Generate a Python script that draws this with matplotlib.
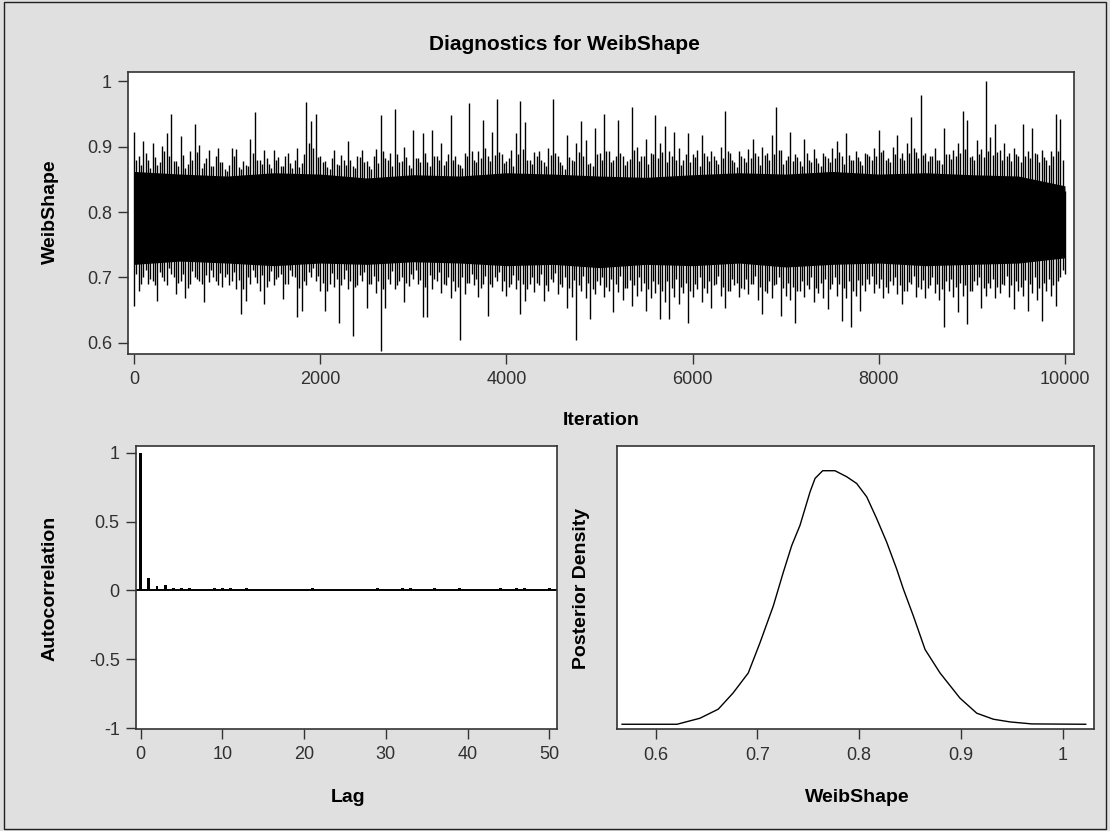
import numpy as np
import matplotlib
matplotlib.use('Agg')
import matplotlib.pyplot as plt
from matplotlib.patches import Rectangle
from matplotlib.ticker import FuncFormatter

# ---------------- data ----------------
trace_step = 50  # iterations between envelope samples (outer spikes)
trace_hi = [
    0.923, 0.885, 0.908, 0.880, 0.906, 0.872, 0.901, 0.921, 0.950, 0.878,
    0.916, 0.868, 0.893, 0.935, 0.903, 0.875, 0.895, 0.870, 0.898, 0.877,
    0.862, 0.898, 0.897, 0.866, 0.872, 0.912, 0.953, 0.880, 0.895, 0.873,
    0.895, 0.884, 0.870, 0.890, 0.868, 0.898, 0.875, 0.968, 0.939, 0.950,
    0.885, 0.878, 0.866, 0.895, 0.872, 0.880, 0.908, 0.870, 0.885, 0.895,
    0.878, 0.866, 0.897, 0.948, 0.883, 0.890, 0.957, 0.876, 0.900, 0.872,
    0.926, 0.882, 0.921, 0.876, 0.926, 0.885, 0.906, 0.878, 0.948, 0.885,
    0.872, 0.890, 0.967, 0.880, 0.893, 0.940, 0.885, 0.922, 0.972, 0.888,
    0.878, 0.895, 0.921, 0.970, 0.937, 0.880, 0.892, 0.893, 0.876, 0.898,
    0.973, 0.885, 0.872, 0.918, 0.880, 0.905, 0.939, 0.910, 0.875, 0.929,
    0.890, 0.950, 0.893, 0.880, 0.941, 0.886, 0.878, 0.961, 0.900, 0.885,
    0.911, 0.890, 0.948, 0.905, 0.931, 0.893, 0.923, 0.898, 0.880, 0.921,
    0.888, 0.895, 0.918, 0.885, 0.893, 0.880, 0.900, 0.955, 0.890, 0.876,
    0.893, 0.882, 0.896, 0.911, 0.885, 0.900, 0.890, 0.918, 0.961, 0.895,
    0.880, 0.923, 0.888, 0.878, 0.911, 0.880, 0.896, 0.875, 0.890, 0.882,
    0.898, 0.908, 0.885, 0.921, 0.880, 0.893, 0.878, 0.890, 0.885, 0.898,
    0.926, 0.895, 0.882, 0.900, 0.918, 0.890, 0.905, 0.945, 0.892, 0.979,
    0.890, 0.885, 0.898, 0.880, 0.929, 0.888, 0.895, 0.906, 0.955, 0.941,
    0.885, 0.910, 0.896, 1.000, 0.915, 0.935, 0.895, 0.906, 0.890, 0.898,
    0.885, 0.935, 0.893, 0.929, 0.888, 0.895, 0.880, 0.893, 0.950, 0.942,
    0.832,
]
trace_lo = [
    0.657, 0.680, 0.700, 0.690, 0.695, 0.664, 0.700, 0.688, 0.705, 0.674,
    0.695, 0.669, 0.690, 0.700, 0.695, 0.662, 0.693, 0.700, 0.688, 0.685,
    0.705, 0.695, 0.683, 0.644, 0.664, 0.690, 0.700, 0.680, 0.659, 0.695,
    0.688, 0.700, 0.667, 0.690, 0.702, 0.640, 0.649, 0.688, 0.700, 0.695,
    0.680, 0.649, 0.690, 0.685, 0.630, 0.698, 0.683, 0.610, 0.688, 0.695,
    0.654, 0.690, 0.676, 0.588, 0.654, 0.690, 0.682, 0.695, 0.662, 0.687,
    0.698, 0.690, 0.639, 0.639, 0.683, 0.695, 0.676, 0.688, 0.668, 0.680,
    0.604, 0.675, 0.692, 0.688, 0.670, 0.690, 0.641, 0.685, 0.695, 0.680,
    0.672, 0.690, 0.683, 0.644, 0.664, 0.690, 0.678, 0.688, 0.664, 0.680,
    0.693, 0.675, 0.686, 0.654, 0.670, 0.604, 0.680, 0.668, 0.636, 0.675,
    0.688, 0.670, 0.680, 0.647, 0.678, 0.665, 0.684, 0.657, 0.672, 0.680,
    0.649, 0.668, 0.676, 0.636, 0.662, 0.636, 0.670, 0.660, 0.676, 0.631,
    0.670, 0.683, 0.662, 0.676, 0.654, 0.690, 0.672, 0.654, 0.680, 0.688,
    0.670, 0.683, 0.675, 0.690, 0.665, 0.644, 0.676, 0.668, 0.690, 0.641,
    0.672, 0.665, 0.630, 0.680, 0.670, 0.683, 0.662, 0.676, 0.668, 0.652,
    0.690, 0.672, 0.634, 0.668, 0.625, 0.672, 0.649, 0.680, 0.690, 0.676,
    0.684, 0.668, 0.676, 0.688, 0.675, 0.660, 0.680, 0.690, 0.670, 0.683,
    0.668, 0.688, 0.676, 0.665, 0.624, 0.680, 0.670, 0.647, 0.672, 0.629,
    0.680, 0.688, 0.654, 0.672, 0.684, 0.668, 0.676, 0.688, 0.670, 0.652,
    0.680, 0.672, 0.649, 0.676, 0.665, 0.634, 0.680, 0.672, 0.657, 0.700,
    0.705,
]
# inner fringe, sampled half-way between the outer samples
fringe_hi = [
    0.880, 0.872, 0.890, 0.868, 0.884, 0.876, 0.893, 0.885, 0.878, 0.870,
    0.887, 0.874, 0.880, 0.892, 0.868, 0.882, 0.871, 0.886, 0.876, 0.866,
    0.872, 0.885, 0.869, 0.878, 0.870, 0.890, 0.880, 0.874, 0.883, 0.868,
    0.879, 0.871, 0.886, 0.875, 0.880, 0.869, 0.888, 0.905, 0.898, 0.884,
    0.876, 0.869, 0.882, 0.874, 0.887, 0.872, 0.880, 0.868, 0.884, 0.877,
    0.870, 0.886, 0.875, 0.893, 0.880, 0.871, 0.889, 0.878, 0.884, 0.868,
    0.883, 0.876, 0.890, 0.871, 0.886, 0.879, 0.872, 0.888, 0.880, 0.874,
    0.868, 0.885, 0.894, 0.876, 0.882, 0.898, 0.878, 0.887, 0.892, 0.875,
    0.883, 0.870, 0.889, 0.896, 0.880, 0.874, 0.885, 0.879, 0.871, 0.887,
    0.890, 0.876, 0.866, 0.884, 0.878, 0.892, 0.885, 0.873, 0.870, 0.888,
    0.880, 0.893, 0.876, 0.885, 0.890, 0.872, 0.881, 0.895, 0.878, 0.886,
    0.874, 0.889, 0.883, 0.891, 0.877, 0.886, 0.880, 0.872, 0.888, 0.876,
    0.884, 0.871, 0.890, 0.878, 0.886, 0.874, 0.882, 0.893, 0.879, 0.869,
    0.885, 0.876, 0.883, 0.890, 0.872, 0.887, 0.880, 0.889, 0.895, 0.874,
    0.886, 0.878, 0.884, 0.871, 0.890, 0.876, 0.882, 0.870, 0.885, 0.877,
    0.883, 0.891, 0.874, 0.887, 0.879, 0.884, 0.872, 0.888, 0.880, 0.886,
    0.892, 0.880, 0.876, 0.888, 0.883, 0.879, 0.890, 0.898, 0.882, 0.887,
    0.878, 0.885, 0.880, 0.874, 0.889, 0.881, 0.886, 0.890, 0.896, 0.884,
    0.879, 0.888, 0.884, 0.893, 0.887, 0.892, 0.880, 0.886, 0.878, 0.889,
    0.876, 0.885, 0.882, 0.890, 0.877, 0.884, 0.872, 0.886, 0.894, 0.880,
]
fringe_lo = [
    0.705, 0.690, 0.712, 0.698, 0.688, 0.708, 0.695, 0.714, 0.700, 0.692,
    0.706, 0.684, 0.710, 0.698, 0.690, 0.703, 0.712, 0.694, 0.707, 0.700,
    0.688, 0.708, 0.696, 0.682, 0.700, 0.712, 0.692, 0.704, 0.686, 0.710,
    0.698, 0.706, 0.690, 0.712, 0.700, 0.684, 0.695, 0.708, 0.714, 0.702,
    0.692, 0.680, 0.707, 0.697, 0.688, 0.712, 0.694, 0.685, 0.704, 0.708,
    0.690, 0.702, 0.694, 0.682, 0.698, 0.710, 0.688, 0.700, 0.692, 0.706,
    0.712, 0.696, 0.686, 0.704, 0.698, 0.708, 0.690, 0.700, 0.694, 0.685,
    0.700, 0.692, 0.706, 0.697, 0.684, 0.702, 0.690, 0.700, 0.708, 0.694,
    0.686, 0.703, 0.696, 0.690, 0.682, 0.700, 0.692, 0.705, 0.688, 0.698,
    0.707, 0.690, 0.700, 0.684, 0.696, 0.688, 0.702, 0.692, 0.683, 0.695,
    0.700, 0.686, 0.697, 0.690, 0.702, 0.684, 0.696, 0.688, 0.700, 0.692,
    0.682, 0.695, 0.690, 0.680, 0.694, 0.684, 0.698, 0.686, 0.692, 0.680,
    0.690, 0.700, 0.684, 0.694, 0.688, 0.702, 0.686, 0.680, 0.697, 0.692,
    0.684, 0.698, 0.690, 0.702, 0.686, 0.680, 0.694, 0.688, 0.700, 0.684,
    0.692, 0.686, 0.680, 0.695, 0.688, 0.700, 0.684, 0.692, 0.698, 0.682,
    0.700, 0.690, 0.684, 0.694, 0.680, 0.696, 0.688, 0.697, 0.702, 0.690,
    0.698, 0.686, 0.694, 0.700, 0.688, 0.680, 0.693, 0.702, 0.686, 0.696,
    0.684, 0.700, 0.690, 0.682, 0.694, 0.698, 0.686, 0.692, 0.688, 0.680,
    0.694, 0.700, 0.684, 0.692, 0.697, 0.686, 0.690, 0.702, 0.688, 0.694,
    0.686, 0.696, 0.690, 0.700, 0.684, 0.692, 0.697, 0.688, 0.694, 0.712,
]
core_step = 500
core_hi = [0.862, 0.858, 0.855, 0.860, 0.858, 0.852, 0.857, 0.855, 0.860, 0.858,
           0.855, 0.853, 0.857, 0.860, 0.858, 0.862, 0.858, 0.860, 0.857, 0.855, 0.840]
core_lo = [0.720, 0.725, 0.722, 0.718, 0.722, 0.720, 0.724, 0.722, 0.718, 0.720,
           0.715, 0.720, 0.718, 0.722, 0.716, 0.720, 0.722, 0.718, 0.720, 0.722, 0.730]

lags = list(range(51))
acf = [1.0, 0.09, 0.03, 0.04, 0.015, 0.015, 0.015, 0.0, 0.0, 0.015,
       0.015, 0.015, 0.0, 0.015, 0.0, 0.0, 0.0, 0.0, 0.0, 0.0,
       0.0, 0.015, 0.0, 0.0, 0.0, 0.0, 0.0, 0.0, 0.0, 0.015,
       0.0, 0.0, 0.015, 0.015, 0.0, 0.0, 0.015, 0.0, 0.0, 0.015,
       0.0, 0.0, 0.0, 0.0, 0.015, 0.0, 0.015, 0.015, 0.0, 0.0, 0.015]

dens_x = [0.567, 0.621, 0.6435, 0.6615, 0.676, 0.691, 0.7025, 0.7156, 0.7254, 0.7337,
          0.7418, 0.7517, 0.7566, 0.7641, 0.7762, 0.7877, 0.7975, 0.8074, 0.8172, 0.827,
          0.8368, 0.8434, 0.8532, 0.8647, 0.8794, 0.899, 0.9155, 0.9318, 0.9482, 0.9695, 1.0226]
dens_y = [0.0, 0.0, 0.19, 0.476, 0.984, 1.619, 2.571, 3.735, 4.794, 5.640,
          6.275, 7.333, 7.757, 8.0, 8.0, 7.810, 7.598, 7.175, 6.487, 5.746,
          4.899, 4.265, 3.418, 2.360, 1.619, 0.825, 0.349, 0.159, 0.074, 0.011, 0.0]

title = "Diagnostics for WeibShape"
trace_yticks = [0.6, 0.7, 0.8, 0.9, 1.0]
trace_xticks = [0, 2000, 4000, 6000, 8000, 10000]
acf_yticks = [-1, -0.5, 0, 0.5, 1]
acf_xticks = [0, 10, 20, 30, 40, 50]
dens_xticks = [0.6, 0.7, 0.8, 0.9, 1.0]

# ---------------- style ----------------
W, H = 1110, 831
BG = '#e0e0e0'
FRAME = '#333333'
TXT = '#303030'
plt.rcParams['font.family'] = ['Liberation Sans', 'DejaVu Sans']

fig = plt.figure(figsize=(W / 100, H / 100), dpi=100, facecolor=BG)


def fx(px):
    return px / W


def fy(py):
    return 1 - py / H


def add_axes(l, t, r, b):
    return fig.add_axes([fx(l), fy(b), (r - l) / W, (b - t) / H])


fmt = FuncFormatter(lambda v, p: '%g' % v)


def style(ax):
    ax.set_facecolor('white')
    for s in ax.spines.values():
        s.set_color(FRAME)
        s.set_linewidth(1.2)
    ax.tick_params(direction='out', length=7.5, width=1.0, color=FRAME,
                   labelsize=13, labelcolor=TXT)
    ax.tick_params(axis='x', pad=5)
    ax.tick_params(axis='y', pad=4)
    ax.xaxis.set_major_formatter(fmt)
    ax.yaxis.set_major_formatter(fmt)


# border of the whole graph
fig.add_artist(Rectangle((fx(4), fy(829)), (1106 - 4) / W, (829 - 2) / H,
                         transform=fig.transFigure, fill=False,
                         ec='#202020', lw=1.0))

# ---------------- trace ----------------
ax1 = add_axes(128, 72, 1074, 354)
style(ax1)
it = np.arange(len(trace_hi)) * trace_step
it2 = np.arange(len(fringe_hi)) * trace_step + trace_step / 2
cit = np.arange(len(core_hi)) * core_step
ax1.fill_between(cit, core_lo, core_hi, color='black', lw=0)
ax1.vlines(it, trace_lo, trace_hi, color='black', lw=1.0)
ax1.vlines(it2, fringe_lo, fringe_hi, color='black', lw=1.0)
ax1.set_xlim(-65, 10097)
ax1.set_ylim(0.583, 1.014)
ax1.set_xticks(trace_xticks)
ax1.set_yticks(trace_yticks)

# ---------------- autocorrelation ----------------
ax2 = add_axes(135.7, 446, 557, 729)
style(ax2)
ax2.bar(lags, acf, width=0.35, color='black', lw=0)
ax2.axhline(0, color='black', lw=1.4)
ax2.set_xlim(-0.61, 50.95)
ax2.set_ylim(-1.007, 1.05)
ax2.set_xticks(acf_xticks)
ax2.set_yticks(acf_yticks)

# ---------------- density ----------------
ax3 = add_axes(617.3, 446, 1094.3, 729.3)
style(ax3)
ax3.plot(dens_x, dens_y, color='black', lw=1.0)
ax3.set_xlim(0.5623, 1.031)
ax3.set_ylim(-0.159, 8.78)
ax3.set_xticks(dens_xticks)
ax3.set_yticks([])

# ---------------- texts ----------------
fig.text(fx(564), fy(45), title, ha='center', va='center',
         fontsize=15, fontweight='bold', color='black')
fig.text(fx(50), fy(212), 'WeibShape', rotation=90, ha='center', va='center',
         fontsize=14, fontweight='bold')
fig.text(fx(601), fy(421), 'Iteration', ha='center', va='center',
         fontsize=14, fontweight='bold')
fig.text(fx(50), fy(588), 'Autocorrelation', rotation=90, ha='center', va='center',
         fontsize=14, fontweight='bold')
fig.text(fx(348), fy(798), 'Lag', ha='center', va='center',
         fontsize=14, fontweight='bold')
fig.text(fx(581), fy(588), 'Posterior Density', rotation=90, ha='center', va='center',
         fontsize=14, fontweight='bold')
fig.text(fx(857), fy(798), 'WeibShape', ha='center', va='center',
         fontsize=14, fontweight='bold')

fig.savefig('out.png', dpi=100, facecolor=BG)
